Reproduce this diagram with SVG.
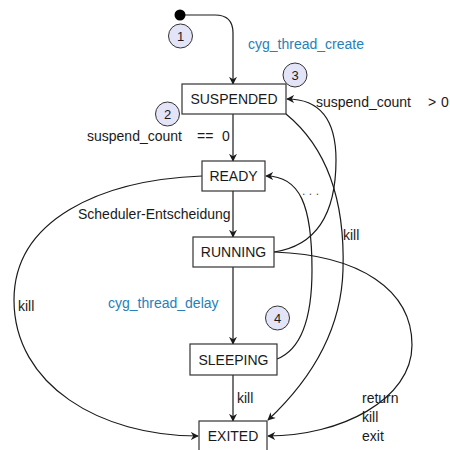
<svg xmlns="http://www.w3.org/2000/svg" width="450" height="450" viewBox="0 0 450 450">
<style>
.node rect{fill:#ffffff;stroke:#333333;stroke-width:1.2}
.node text{font-family:"Liberation Sans",Arial,sans-serif;font-size:14px;fill:#1a1a1a;text-anchor:middle;dominant-baseline:central}
.badge circle{fill:#e4e4f8;stroke:#333333;stroke-width:1}
.badge text{font-family:"Liberation Sans",Arial,sans-serif;font-size:13px;fill:#1a1a1a;text-anchor:middle;dominant-baseline:central}
.edges path{fill:none;stroke:#1a1a1a;stroke-width:1.2;marker-end:url(#arr)}
.lbl{font-family:"Liberation Sans",Arial,sans-serif;font-size:14px;fill:#1a1a1a}
.blue{fill:#2680b9}
</style>
<defs>
<marker id="arr" viewBox="0 0 10 10" refX="9" refY="5" markerWidth="8" markerHeight="8" markerUnits="userSpaceOnUse" orient="auto">
<path d="M0,0 L10,5 L0,10 L3,5 z" fill="#1a1a1a"/>
</marker>
</defs>

<g class="edges" id="connectors">
<path d="M185,15 L215,15 Q233,15 233,33 L233,84"/>
<path d="M233,114 L233,161"/>
<path d="M233,191 L233,237"/>
<path d="M233,267 L233,344"/>
<path d="M233,375 L233,421"/>
<path d="M274,252 C322,245 336,205 336,160 C336,118 318,99 287,99"/>
<path d="M277,359 C300,350 312,320 312,270 C312,205 300,176 266,176"/>
<path d="M286,114 C330,150 345,205 343,270 C341,340 300,390 268,420"/>
<path d="M202,176 C100,180 14,220 14,300 C14,385 100,436 198,436"/>
<path d="M274,252 C360,255 412,290 412,345 C412,400 340,436 268,436"/>
</g>

<circle id="start" cx="180" cy="15" r="5.5" fill="#000000"/>

<g class="node" id="suspended"><rect x="182" y="84" width="104" height="30"/><text x="234" y="99">SUSPENDED</text></g>
<g class="node" id="ready"><rect x="202" y="161" width="63" height="30"/><text x="233.5" y="176">READY</text></g>
<g class="node" id="running"><rect x="193" y="237" width="81" height="30"/><text x="233.5" y="252">RUNNING</text></g>
<g class="node" id="sleeping"><rect x="190" y="344" width="87" height="31"/><text x="233.5" y="359.5">SLEEPING</text></g>
<g class="node" id="exited"><rect x="199" y="421" width="68" height="35"/><text x="233" y="436">EXITED</text></g>

<g class="badge" id="b1"><circle cx="180.5" cy="36" r="12"/><text x="180.5" y="36">1</text></g>
<g class="badge" id="b2"><circle cx="167.5" cy="114" r="12"/><text x="167.5" y="114">2</text></g>
<g class="badge" id="b3"><circle cx="295" cy="75" r="12"/><text x="295" y="75">3</text></g>
<g class="badge" id="b4"><circle cx="277.5" cy="318" r="12"/><text x="277.5" y="318">4</text></g>

<g id="labels">
<text class="lbl blue" x="248" y="49">cyg_thread_create</text>
<text class="lbl" x="87" y="141">suspend_count</text>
<text class="lbl" x="197" y="141">==</text>
<text class="lbl" x="222" y="141">0</text>
<text class="lbl" x="316" y="107">suspend_count</text>
<text class="lbl" x="428" y="107">&gt;</text>
<text class="lbl" x="441" y="107">0</text>
<text class="lbl" x="78" y="219">Scheduler-Entscheidung</text>
<text class="lbl" x="302" y="195" letter-spacing="3.5" style="fill:#555555;font-size:12px">...</text>
<text class="lbl" x="343" y="240">kill</text>
<text class="lbl blue" x="108" y="308">cyg_thread_delay</text>
<text class="lbl" x="18" y="311">kill</text>
<text class="lbl" x="237" y="403">kill</text>
<text class="lbl" x="362" y="403">return</text>
<text class="lbl" x="362" y="422">kill</text>
<text class="lbl" x="362" y="441">exit</text>
</g>
</svg>
